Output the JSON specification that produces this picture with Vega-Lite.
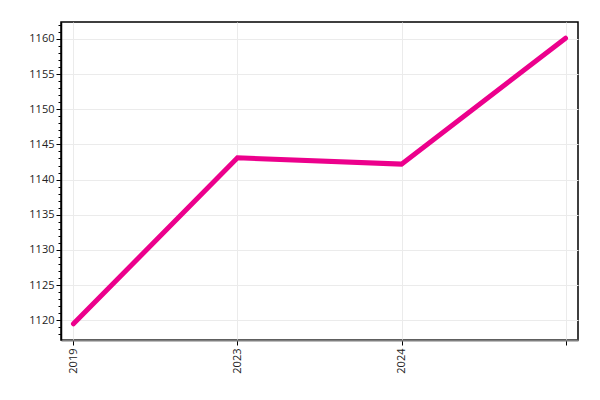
{
  "$schema": "https://vega.github.io/schema/vega-lite/v6.json",
  "autosize": "none",
  "width": 517,
  "height": 318,
  "padding": {"left": 61, "top": 22, "right": 22, "bottom": 60},
  "background": "white",
  "config": {
    "font": "Open Sans",
    "view": {"stroke": "black", "strokeWidth": 1.5},
    "axis": {"labelFont": "Open Sans", "labelFontSize": 11, "labelColor": "#222", "gridColor": "#ebebeb", "gridWidth": 1, "tickColor": "black", "title": null}
  },
  "data": {"values": [
    {"year": "2019", "value": 1119.5},
    {"year": "2023", "value": 1143.1},
    {"year": "2024", "value": 1142.2},
    {"year": " ", "value": 1160.1}
  ]},
  "mark": {"type": "line", "color": "#ec008c", "strokeWidth": 5, "strokeCap": "round", "strokeJoin": "miter"},
  "encoding": {
    "x": {"field": "year", "type": "ordinal", "sort": null,
      "scale": {"type": "point", "padding": 0.076},
      "axis": {"labelAngle": -90, "grid": true, "domainColor": "#7f7f7f", "domainWidth": 2, "tickSize": 5, "labelPadding": 3, "labelAlign": "right", "labelBaseline": "middle"}},
    "y": {"field": "value", "type": "quantitative",
      "scale": {"domain": [1117.2, 1162.4], "nice": false, "zero": false},
      "axis": {
        "format": "d",
        "values": [1118,1119,1120,1121,1122,1123,1124,1125,1126,1127,1128,1129,1130,1131,1132,1133,1134,1135,1136,1137,1138,1139,1140,1141,1142,1143,1144,1145,1146,1147,1148,1149,1150,1151,1152,1153,1154,1155,1156,1157,1158,1159,1160,1161,1162],
        "labelExpr": "datum.value % 5 === 0 ? datum.label : ''",
        "tickSize": {"condition": {"test": "datum.value % 5 === 0", "value": 5}, "value": 3},
        "gridOpacity": {"condition": {"test": "datum.value % 5 === 0", "value": 1}, "value": 0},
        "domainColor": "black", "domainWidth": 1.5, "labelPadding": 2}
    }
  }
}
